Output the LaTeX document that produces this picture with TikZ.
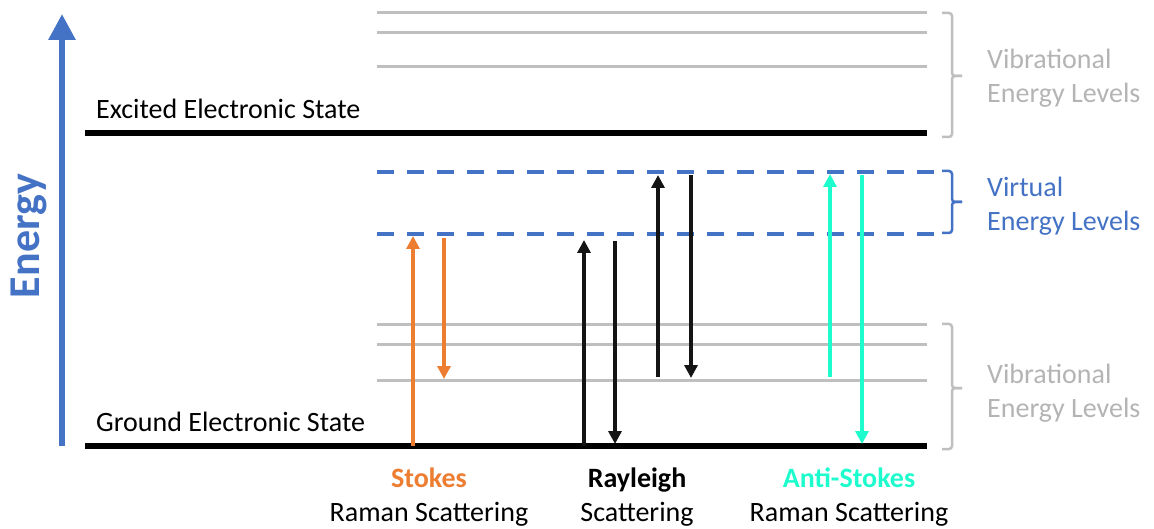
\documentclass[tikz,border=0pt]{standalone}
\usepackage{fontspec}
\setmainfont{Carlito}
\usetikzlibrary{arrows.meta}
\definecolor{eblue}{RGB}{68,114,196}
\definecolor{orng}{RGB}{237,125,49}
\definecolor{vgray}{RGB}{191,191,191}
\definecolor{tgray}{RGB}{180,180,180}
\definecolor{agreen}{RGB}{29,252,204}
\tikzset{
  state/.style={line width=6pt, black},
  vib/.style={line width=3pt, vgray},
  virt/.style={line width=3.5pt, eblue, dash pattern=on 17pt off 13pt},
  trans/.style={line width=4pt, -{Triangle[width=13pt,length=13pt]}},
  brc/.style={line width=2.5pt, rounded corners=3pt},
  lbl/.style={font=\fontsize{28}{34}\selectfont, inner sep=0pt, anchor=base west},
  captxt/.style={font=\fontsize{28}{34}\selectfont, inner sep=0pt, anchor=base},
  capbold/.style={font=\fontsize{28}{34}\selectfont\bfseries, inner sep=0pt, anchor=base},
}
\begin{document}
\begin{tikzpicture}[x=1pt,y=-1pt]
\useasboundingbox (0,0) rectangle (1154,529);
% energy axis
\coordinate (ebot) at (62,446);
\coordinate (etop) at (62,14);
\draw[eblue, line width=6pt, -{Triangle[width=26pt,length=26pt]}] (ebot) -- (etop);
\node[rotate=90, anchor=base, inner sep=0pt, text=eblue, font=\fontsize{44}{52}\selectfont\bfseries] (energy) at (39,236) {Energy};
% upper vibrational levels
\coordinate (uv1a) at (377,13); \coordinate (uv1b) at (927,13);
\coordinate (uv2a) at (377,33); \coordinate (uv2b) at (927,33);
\coordinate (uv3a) at (377,67); \coordinate (uv3b) at (927,67);
\draw[vib] (uv1a) -- (uv1b);
\draw[vib] (uv2a) -- (uv2b);
\draw[vib] (uv3a) -- (uv3b);
% lower vibrational levels
\coordinate (lv1a) at (377,325); \coordinate (lv1b) at (927,325);
\coordinate (lv2a) at (377,344); \coordinate (lv2b) at (927,344);
\coordinate (lv3a) at (377,380); \coordinate (lv3b) at (927,380);
\draw[vib] (lv1a) -- (lv1b);
\draw[vib] (lv2a) -- (lv2b);
\draw[vib] (lv3a) -- (lv3b);
% virtual levels
\coordinate (vt1a) at (377,172); \coordinate (vt1b) at (946,172);
\coordinate (vt2a) at (377,234); \coordinate (vt2b) at (946,234);
\draw[virt] (vt1a) -- (vt1b);
\draw[virt] (vt2a) -- (vt2b);
% electronic states
\coordinate (exa) at (85,133); \coordinate (exb) at (927,133);
\coordinate (gra) at (85,446); \coordinate (grb) at (927,446);
\draw[state] (exa) -- (exb);
\draw[state] (gra) -- (grb);
\node[lbl] (exlbl) at (96,119) {Excited Electronic State};
\node[lbl] (grlbl) at (96,431) {Ground Electronic State};
% braces
\draw[brc, vgray] (942,13) -| (952,76) -- (962,76);
\draw[brc, vgray] (962,76) -- (952,76) |- (942,137);
\draw[brc, eblue] (942,171) -| (952,202) -- (962,202);
\draw[brc, eblue] (962,202) -- (952,202) |- (942,233);
\draw[brc, vgray] (942,324) -| (952,388) -- (962,388);
\draw[brc, vgray] (962,388) -- (952,388) |- (942,449);
\node[lbl, text=tgray] (v1a) at (987,69) {Vibrational};
\node[lbl, text=tgray] (v1b) at (987,103) {Energy Levels};
\node[lbl, text=eblue] (v2a) at (987,197) {Virtual};
\node[lbl, text=eblue] (v2b) at (987,231) {Energy Levels};
\node[lbl, text=tgray] (v3a) at (987,383) {Vibrational};
\node[lbl, text=tgray] (v3b) at (987,417) {Energy Levels};
% Stokes
\coordinate (s1a) at (413,446); \coordinate (s1b) at (413,236);
\coordinate (s2a) at (444,238); \coordinate (s2b) at (444,379);
\draw[trans, orng] (s1a) -- (s1b);
\draw[trans, orng] (s2a) -- (s2b);
% Rayleigh
\coordinate (r1a) at (584,446); \coordinate (r1b) at (584,240);
\coordinate (r2a) at (615,241); \coordinate (r2b) at (615,444);
\coordinate (r3a) at (658,377); \coordinate (r3b) at (658,175);
\coordinate (r4a) at (691,175); \coordinate (r4b) at (691,378);
\draw[trans, black!92] (r1a) -- (r1b);
\draw[trans, black!92] (r2a) -- (r2b);
\draw[trans, black!92] (r3a) -- (r3b);
\draw[trans, black!92] (r4a) -- (r4b);
% Anti-Stokes
\coordinate (a1a) at (830,377); \coordinate (a1b) at (830,174);
\coordinate (a2a) at (862,175); \coordinate (a2b) at (862,444);
\draw[trans, agreen] (a1a) -- (a1b);
\draw[trans, agreen] (a2a) -- (a2b);
% captions
\node[capbold, text=orng] (stk) at (429,487) {Stokes};
\node[captxt] (stk2) at (429,521) {Raman Scattering};
\node[capbold] (ray) at (637,487) {Rayleigh};
\node[captxt] (ray2) at (637,521) {Scattering};
\node[capbold, text=agreen] (ast) at (849,487) {Anti-Stokes};
\node[captxt] (ast2) at (849,521) {Raman Scattering};
\end{tikzpicture}
\end{document}
